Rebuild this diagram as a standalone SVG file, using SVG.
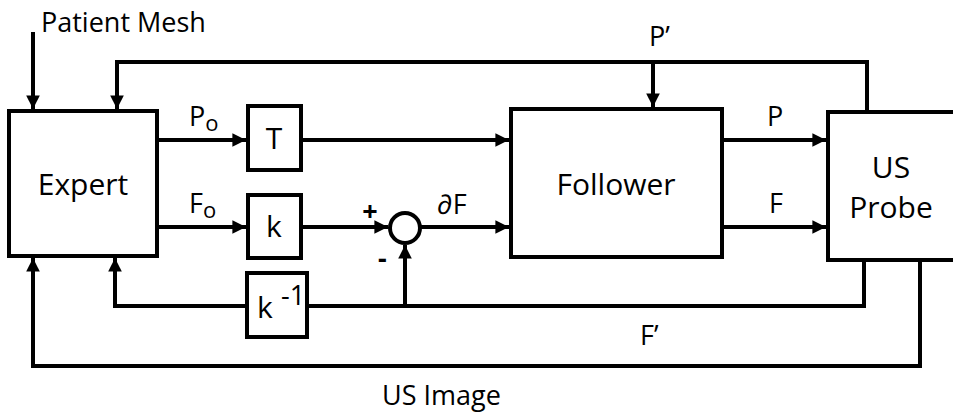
<svg xmlns="http://www.w3.org/2000/svg" width="953" height="412" viewBox="0 0 953 412">
<defs>
<style>
.box{fill:#fff;stroke:#000;stroke-width:4}
.ln{fill:none;stroke:#000;stroke-width:4}
text{font-family:"Open Sans","Liberation Sans",sans-serif;fill:#000;font-size:27px}
.big{font-size:30px}
.mid{text-anchor:middle}
</style>
<marker id="ah" viewBox="0 0 10 10" refX="10" refY="5" markerWidth="3.4" markerHeight="3.4" markerUnits="strokeWidth" orient="auto">
<path d="M0,0 L10,5 L0,10 z" fill="#000"/>
</marker>
</defs>
<rect width="953" height="412" fill="#fff"/>
<g id="connectors">
<path class="ln" d="M33,32 V109" marker-end="url(#ah)"/>
<path class="ln" d="M867,112 V62 H117 V109" marker-end="url(#ah)"/>
<path class="ln" d="M653,62 V107" marker-end="url(#ah)"/>
<path class="ln" d="M157,140 H246" marker-end="url(#ah)"/>
<path class="ln" d="M301,140 H509" marker-end="url(#ah)"/>
<path class="ln" d="M157,227 H246" marker-end="url(#ah)"/>
<path class="ln" d="M301,227 H388" marker-end="url(#ah)"/>
<path class="ln" d="M420,227 H509" marker-end="url(#ah)"/>
<path class="ln" d="M722,140 H826" marker-end="url(#ah)"/>
<path class="ln" d="M722,227 H826" marker-end="url(#ah)"/>
<path class="ln" d="M864,260 V306 H115 V258" marker-end="url(#ah)"/>
<path class="ln" d="M405,306 V245" marker-end="url(#ah)"/>
<path class="ln" d="M920,260 V366 H33 V258" marker-end="url(#ah)"/>
</g>
<g id="expert"><rect class="box" x="9" y="111" width="148" height="145"/><text class="big mid" x="83" y="195">Expert</text></g>
<g id="T"><rect class="box" x="248" y="106" width="53" height="64"/><text class="big mid" x="274" y="149">T</text></g>
<g id="k"><rect class="box" x="248" y="195" width="53" height="63"/><text class="big mid" x="274" y="237">k</text></g>
<g id="kinv"><rect class="box" x="247" y="273" width="60" height="64"/><text class="big" x="257" y="318">k</text><text x="281" y="305" font-size="20">-1</text></g>
<g id="sum"><circle cx="405" cy="228" r="15" fill="#fff" stroke="#000" stroke-width="4"/></g>
<g id="follower"><rect class="box" x="511" y="109" width="211" height="148"/><text class="big mid" x="616" y="195">Follower</text></g>
<g id="probe"><rect class="box" x="828" y="112" width="140" height="148"/><text class="big mid" x="891" y="178">US</text><text class="big mid" x="891" y="218">Probe</text></g>
<g id="labels">
<text x="370" y="221" font-size="38" font-weight="bold" text-anchor="middle">+</text>
<text x="378" y="268" font-size="30" font-weight="bold">-</text>
<text x="41" y="32">Patient Mesh</text>
<text x="189" y="126">P<tspan font-size="22" dy="5">o</tspan></text>
<text x="189" y="213">F<tspan font-size="22" dy="5">o</tspan></text>
<text x="437" y="214">∂F</text>
<text x="649" y="46">P’</text>
<text x="767" y="126">P</text>
<text x="769" y="213">F</text>
<text x="640" y="345">F’</text>
<text x="382" y="405">US Image</text>
</g>
</svg>
